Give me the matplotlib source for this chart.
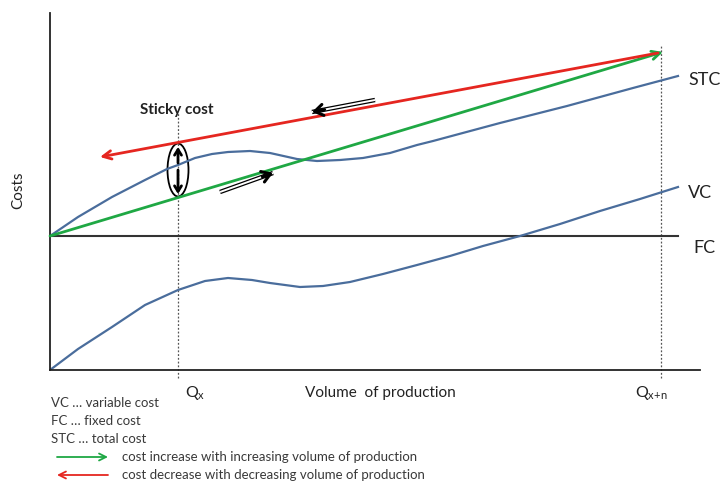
import numpy as np
import matplotlib
matplotlib.use("Agg")
from matplotlib import pyplot as plt
from matplotlib.patches import Ellipse

plt.rcParams['font.family'] = ['Lato', 'DejaVu Sans']
plt.rcParams['mathtext.fontset'] = 'custom'
plt.rcParams['mathtext.rm'] = 'Lato'

# volume of production (x) and cost (y), in arbitrary chart units
stc_x = [0, 28, 62, 95, 117, 128, 145, 162, 178, 200, 220, 247, 267, 290, 313, 340, 367, 383, 450, 517, 583, 628]
stc_y = [134, 153, 173, 190, 201, 205, 212, 216, 218, 219, 217, 211, 209, 210, 212, 217, 225, 229, 247, 264, 282, 294]
vc_x = [0, 28, 62, 95, 128, 155, 178, 202, 220, 250, 273, 300, 333, 367, 400, 433, 470, 510, 550, 590, 628]
vc_y = [0, 21, 43, 65, 80, 89, 92, 90, 87, 83, 84, 88, 96, 105, 114, 124, 134, 146, 159, 171, 183]
fc_x = [0, 628]
fc_y = [134, 134]
inc_x = [0, 613]      # green: cost increase
inc_y = [134, 318]
dec_x = [608, 50]     # red: cost decrease
dec_y = [317, 213]
qx = 128
qxn = 611

blue = '#4a6d9c'
green = '#1fa844'
red = '#e52620'
txt = '#3a3a3a'

fig = plt.figure(figsize=(7.27, 4.83), dpi=100)
ax = fig.add_axes([50 / 727, 113 / 483, 650 / 727, 357 / 483])
ax.set_xlim(0, 650)
ax.set_ylim(0, 357)
for s in ['top', 'right']:
    ax.spines[s].set_visible(False)
for s in ['left', 'bottom']:
    ax.spines[s].set_linewidth(1.3)
    ax.spines[s].set_color('#222222')
ax.set_xticks([])
ax.set_yticks([])

# dotted guide lines
ax.plot([qx, qx], [-8, 257], ls=(0, (1.5, 1.5)), color='#555555', lw=0.9, clip_on=False)
ax.plot([qxn, qxn], [-8, 325], ls=(0, (1.5, 1.5)), color='#555555', lw=0.9, clip_on=False)

ax.plot(fc_x, fc_y, color='#333333', lw=1.5)
ax.plot(vc_x, vc_y, color=blue, lw=1.6, solid_joinstyle='round')
ax.plot(stc_x, stc_y, color=blue, lw=1.6, solid_joinstyle='round')

ax.annotate('', xy=(inc_x[1], inc_y[1]), xytext=(inc_x[0], inc_y[0]),
            arrowprops=dict(arrowstyle='->,head_length=0.6,head_width=0.3', color=green, lw=2,
                            shrinkA=0, shrinkB=0))
ax.annotate('', xy=(dec_x[1], dec_y[1]), xytext=(dec_x[0], dec_y[0]),
            arrowprops=dict(arrowstyle='->,head_length=0.6,head_width=0.3', color=red, lw=2,
                            shrinkA=0, shrinkB=0))

# sticky cost ellipse with arrows
ax.add_patch(Ellipse((qx, 200), 21, 53, fill=False, ec='black', lw=1.3))
ax.annotate('', xy=(qx, 223), xytext=(qx, 207),
            arrowprops=dict(arrowstyle='->,head_length=0.4,head_width=0.25', color='black', lw=2,
                            shrinkA=0, shrinkB=0))
ax.annotate('', xy=(qx, 176), xytext=(qx, 200),
            arrowprops=dict(arrowstyle='->,head_length=0.4,head_width=0.25', color='black', lw=2,
                            shrinkA=0, shrinkB=0))
ax.text(qx - 1, 260, 'Sticky cost', ha='center', va='center', fontsize=11, fontweight='bold', color='#222222')


def double_arrow(x0, y0, x1, y1):
    ax.plot([x0, x1], [y0, y1], color='black', lw=3.2, solid_capstyle='butt')
    ax.plot([x0, x1], [y0, y1], color='white', lw=1.4, solid_capstyle='butt')
    xm = x0 + 0.8 * (x1 - x0)
    ym = y0 + 0.8 * (y1 - y0)
    ax.annotate('', xy=(x1, y1), xytext=(xm, ym),
                arrowprops=dict(arrowstyle='->,head_length=0.6,head_width=0.4', color='black', lw=2.2,
                                shrinkA=0, shrinkB=0))


double_arrow(170, 178, 223, 197)
double_arrow(325, 270, 262, 258)

# curve labels
ax.text(638, 290, 'STC', fontsize=13, va='center', color='#222222', clip_on=False)
ax.text(638, 177, 'VC', fontsize=13, va='center', color='#222222', clip_on=False)
ax.text(643, 122, 'FC', fontsize=13, va='center', color='#222222', clip_on=False)
ax.text(-32, 180, 'Costs', fontsize=11, rotation=90, ha='center', va='center', color='#222222', clip_on=False)

ax.text(135, -23, r'Q$_\mathregular{x}$', fontsize=11.5, va='center', color='#222222', clip_on=False)
ax.text(585, -23, r'Q$_\mathregular{x{+}n}$', fontsize=11.5, va='center', color='#222222', clip_on=False)
ax.text(255, -23, 'Volume  of production', fontsize=11, va='center', color='#222222', clip_on=False)

# legend notes
ax.text(1, -33, 'VC … variable cost', fontsize=9.5, va='center', color=txt, clip_on=False)
ax.text(1, -51, 'FC … fixed cost', fontsize=9.5, va='center', color=txt, clip_on=False)
ax.text(1, -69, 'STC … total cost', fontsize=9.5, va='center', color=txt, clip_on=False)
ax.annotate('', xy=(58, -87), xytext=(7, -87), annotation_clip=False,
            arrowprops=dict(arrowstyle='->,head_length=0.5,head_width=0.25', color=green, lw=1.3,
                            shrinkA=0, shrinkB=0))
ax.annotate('', xy=(7, -105), xytext=(58, -105), annotation_clip=False,
            arrowprops=dict(arrowstyle='->,head_length=0.5,head_width=0.25', color=red, lw=1.3,
                            shrinkA=0, shrinkB=0))
ax.text(72, -87, 'cost increase with increasing volume of production', fontsize=9.5, va='center',
        color=txt, clip_on=False)
ax.text(72, -105, 'cost decrease with decreasing volume of production', fontsize=9.5, va='center',
        color=txt, clip_on=False)

fig.savefig('out.png', dpi=100)
